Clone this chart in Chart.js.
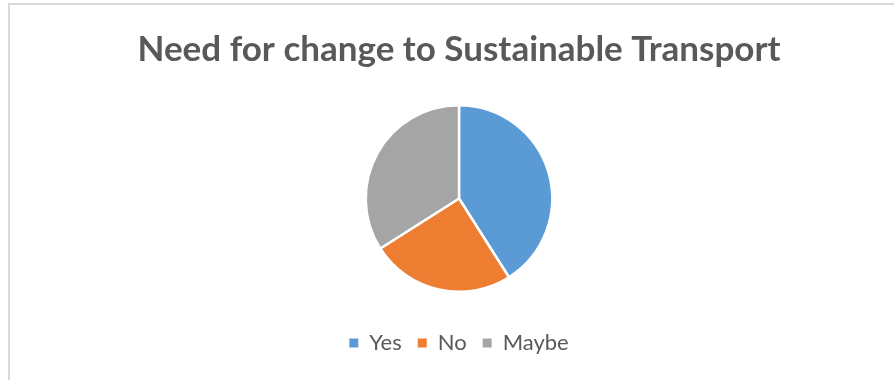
<!DOCTYPE html>
<html>
<head>
<meta charset="utf-8">
<script src="https://cdn.jsdelivr.net/npm/chart.js@4/dist/chart.umd.min.js"></script>
<style>
html,body{margin:0;padding:0;background:#fff;overflow:hidden;}
#frame{position:absolute;left:8px;top:3px;width:900px;height:400px;border:2px solid #d9d9d9;box-sizing:border-box;}
#wrap{position:absolute;left:0;top:0;width:894px;height:380px;}
</style>
</head>
<body>
<div id="frame"></div>
<div id="wrap"><canvas id="c" width="894" height="380"></canvas></div>
<script>
const categories = ["Yes", "No", "Maybe"];
const values = [41, 25, 34];
const colors = ["#5B9BD5", "#ED7D31", "#A5A5A5"];
const titleText = "Need for change to Sustainable Transport";

new Chart(document.getElementById('c'), {
  type: 'pie',
  data: {
    labels: categories,
    datasets: [{
      data: values,
      backgroundColor: colors,
      borderColor: '#ffffff',
      borderWidth: 2.5
    }]
  },
  options: {
    responsive: false,
    animation: false,
    layout: { padding: { left: 24, right: 0, top: 0, bottom: 16 } },
    plugins: {
      tooltip: { enabled: false },
      title: {
        display: true,
        text: titleText,
        color: '#595959',
        font: { family: 'Lato', size: 35, weight: 'bold', lineHeight: 1.2 },
        padding: { top: 29, bottom: 33 }
      },
      legend: {
        position: 'bottom',
        title: {
          display: true,
          text: '',
          font: { size: 1, lineHeight: 1 },
          padding: { top: 8, bottom: 14 }
        },
        labels: {
          color: '#595959',
          font: { family: 'Lato', size: 22 },
          boxWidth: 9,
          boxHeight: 9,
          padding: 16,
          generateLabels(chart) {
            const items = Chart.overrides.pie.plugins.legend.labels.generateLabels(chart);
            items.forEach(it => { it.lineWidth = 0; it.strokeStyle = 'rgba(0,0,0,0)'; });
            return items;
          }
        }
      }
    }
  }
});
</script>
</body>
</html>
